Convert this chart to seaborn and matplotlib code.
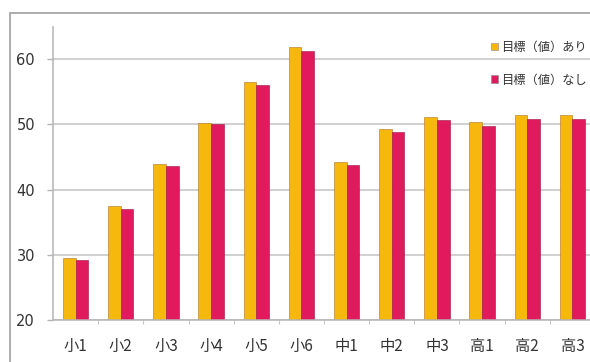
import matplotlib
matplotlib.use("Agg")
import matplotlib.pyplot as plt
from matplotlib.patches import Rectangle
import seaborn as sns
import pandas as pd

# School grades and mean scores for the two groups
grades = ["小1", "小2", "小3", "小4", "小5", "小6", "中1", "中2", "中3", "高1", "高2", "高3"]
with_goal = [29.5, 37.5, 43.9, 50.2, 56.5, 61.9, 44.2, 49.3, 51.1, 50.3, 51.4, 51.5]
without_goal = [29.2, 37.0, 43.6, 50.0, 56.0, 61.3, 43.7, 48.8, 50.6, 49.7, 50.8, 50.8]
series_names = ["目標（値）あり", "目標（値）なし"]
y_ticks = [20, 30, 40, 50, 60]

df = pd.DataFrame({
    "grade": grades * 2,
    "score": with_goal + without_goal,
    "group": [series_names[0]] * len(grades) + [series_names[1]] * len(grades),
})

sns.set_theme(style="white")
plt.rcParams["font.family"] = ["Noto Sans CJK JP", "DejaVu Sans"]

W, H = 590, 362
fig = plt.figure(figsize=(W / 100, H / 100), dpi=100)
fig.patch.set_facecolor("white")

# outer frame of the chart (extends past the right and bottom edges)
fig.add_artist(Rectangle((10 / W, -0.5), 2.0, 0.5 + (H - 13) / H,
                         transform=fig.transFigure, fill=False,
                         edgecolor="#a0a0a0", linewidth=1.2))

ax_left, ax_right = 53, 595
ax_top, ax_bottom = 26.5, 320
ax = fig.add_axes([ax_left / W, (H - ax_bottom) / H,
                   (ax_right - ax_left) / W, (ax_bottom - ax_top) / H])

palette = ["#F6B80C", "#E01A5C"]
sns.barplot(data=df, x="grade", y="score", hue="group", palette=palette,
            width=0.56, saturation=1, ax=ax, legend=False,
            edgecolor="#b0702a", linewidth=0.4)

# darker edge tone for the pink bars
n = len(grades)
for i, bar in enumerate(ax.patches):
    if i >= n:
        bar.set_edgecolor("#9c1040")

ax.set_ylim(20, 65)
ax.set_xlim(-0.5, n - 0.5)
ax.set_yticks(y_ticks)
ax.set_xlabel("")
ax.set_ylabel("")

ax.yaxis.grid(True, color="#c4c4c4", linewidth=1.1)
ax.set_axisbelow(True)
for side in ["top", "right"]:
    ax.spines[side].set_visible(False)
for side in ["left", "bottom"]:
    ax.spines[side].set_color("#b4b4b4")
    ax.spines[side].set_linewidth(1.1)

ax.tick_params(axis="y", which="major", left=True, length=4, width=1,
               color="#b4b4b4", pad=9, labelsize=10.5, labelcolor="#333333")
ax.tick_params(axis="x", which="major", bottom=False, pad=7,
               labelsize=11, labelcolor="#333333")
ax.set_xticks([i + 0.5 for i in range(n)], minor=True)
ax.tick_params(axis="x", which="minor", bottom=True, length=3, width=0.8,
               color="#c8c8c8")
for lab in ax.get_yticklabels():
    lab.set_fontfamily("DejaVu Sans")

# legend in the upper right corner
handles = [Rectangle((0, 0), 1, 1, facecolor=c, edgecolor="#888888", linewidth=0.4)
           for c in palette]
leg = fig.legend(handles, series_names, loc="upper left",
                 bbox_to_anchor=(486 / W, (H - 36) / H),
                 frameon=False, fontsize=8.8, handlelength=0.6, handleheight=0.6,
                 handletextpad=0.25, labelspacing=1.6, borderaxespad=0)
for t in leg.get_texts():
    t.set_color("#333333")

fig.savefig("out.png", dpi=100, facecolor="white")
